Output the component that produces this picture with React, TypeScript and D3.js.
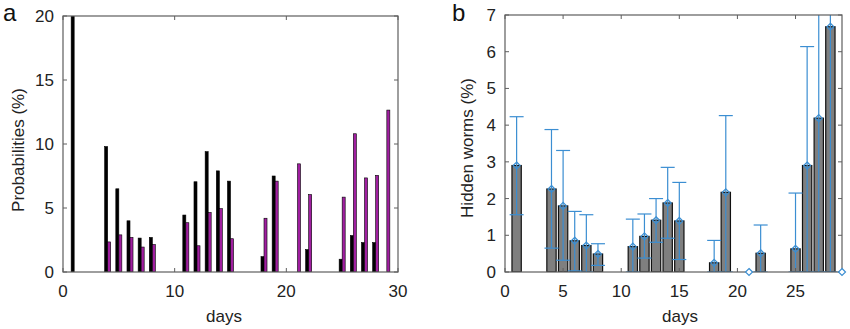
import React from "react";
import * as d3 from "d3";

// Panel a data
const daysA = [1, 4, 5, 6, 7, 8, 11, 12, 13, 14, 15, 18, 19, 21, 22, 25, 26, 27, 28, 29];
const probBlack = [20.5, 9.8, 6.5, 4.0, 2.65, 2.7, 4.45, 7.05, 9.4, 7.9, 7.1, 1.2, 7.5, 0, 1.75, 1.0, 2.85, 2.3, 2.3, 0];
const probPurple = [0, 2.35, 2.9, 2.7, 1.95, 2.15, 3.85, 2.05, 4.65, 4.95, 2.6, 4.2, 7.1, 8.45, 6.05, 5.85, 10.8, 7.35, 7.55, 12.65];
const xTicksA = [0, 10, 20, 30];
const yTicksA = [0, 5, 10, 15, 20];

// Panel b data
const daysB = [1, 4, 5, 6, 7, 8, 11, 12, 13, 14, 15, 18, 19, 21, 22, 25, 26, 27, 28, 29];
const hidden = [2.9, 2.26, 1.8, 0.85, 0.72, 0.49, 0.69, 0.97, 1.41, 1.88, 1.39, 0.25, 2.17, 0, 0.51, 0.63, 2.9, 4.19, 6.68, 0];
const errLower = [1.56, 0.65, 0.32, 0.03, 0, 0.18, 0, 0.38, 0.81, 0.92, 0.34, 0, 0, 0, 0, 0, 0, 0, 0, 0];
const errUpper = [4.23, 3.88, 3.31, 1.65, 1.56, 0.77, 1.44, 1.58, 2.0, 2.85, 2.44, 0.86, 4.26, 0, 1.28, 2.15, 6.14, 8.2, 7.6, 0];
const xTicksB = [0, 5, 10, 15, 20, 25];
const yTicksB = [0, 1, 2, 3, 4, 5, 6, 7];

const FONT = "'Liberation Sans', Arial, Helvetica, sans-serif";
const AXIS = "#5e5e5e";
const PURPLE = "#a01fa0";
const GREY = "#7f7f7f";
const BLUE = "#3b8ed2";

function Frame({ x, y, xTicks, yTicks, tick = 4 }: any) {
  const [x0, x1] = x.range();
  const [y0, y1] = y.range();
  return (
    <g>
      <rect x={x0} y={y1} width={x1 - x0} height={y0 - y1} fill="none" stroke={AXIS} strokeWidth={1.2} />
      {xTicks.map((t: number) => (
        <g key={"xt" + t}>
          <line x1={x(t)} x2={x(t)} y1={y0} y2={y0 - tick} stroke={AXIS} />
          <line x1={x(t)} x2={x(t)} y1={y1} y2={y1 + tick} stroke={AXIS} />
          <text x={x(t)} y={297} textAnchor="middle" fontSize={17} fontFamily={FONT} fill="#222">{t}</text>
        </g>
      ))}
      {yTicks.map((t: number) => (
        <g key={"yt" + t}>
          <line x1={x0} x2={x0 + tick} y1={y(t)} y2={y(t)} stroke={AXIS} />
          <line x1={x1} x2={x1 - tick} y1={y(t)} y2={y(t)} stroke={AXIS} />
          <text x={x0 - 9} y={y(t)} dy="0.35em" textAnchor="end" fontSize={17} fontFamily={FONT} fill="#222">{t}</text>
        </g>
      ))}
    </g>
  );
}

export default function App() {
  const xA = d3.scaleLinear().domain([0, 30]).range([63, 398]);
  const yA = d3.scaleLinear().domain([0, 20]).range([272, 16]);
  const xB = d3.scaleLinear().domain([0, 29]).range([505, 842]);
  const yB = d3.scaleLinear().domain([0, 7]).range([272, 15]);
  const half = 0.27;
  const bw = 0.8;
  const cap = 7;
  const diamond = (cx: number, cy: number, r: number) =>
    `M${cx},${cy - r}L${cx + r},${cy}L${cx},${cy + r}L${cx - r},${cy}Z`;

  return (
    <svg width={850} height={329} style={{ position: "absolute", left: 0, top: 0, background: "#fff" }}>
      <defs>
        <clipPath id="clipA"><rect x={63} y={16} width={335} height={256} /></clipPath>
        <clipPath id="clipB"><rect x={505} y={15} width={337} height={257} /></clipPath>
      </defs>

      {/* Panel a */}
      <g clipPath="url(#clipA)">
        {daysA.map((d, i) => probBlack[i] > 0 ? (
          <rect key={"b" + d} x={xA(d - half)} y={yA(probBlack[i])} width={xA(d) - xA(d - half)}
            height={yA(0) - yA(probBlack[i])} fill="#000" stroke="#000" strokeWidth={0.6} />
        ) : null)}
        {daysA.map((d, i) => probPurple[i] > 0 ? (
          <rect key={"p" + d} x={xA(d)} y={yA(probPurple[i])} width={xA(d + half) - xA(d)}
            height={yA(0) - yA(probPurple[i])} fill={PURPLE} stroke="#000" strokeWidth={0.6} />
        ) : null)}
      </g>
      <Frame x={xA} y={yA} xTicks={xTicksA} yTicks={yTicksA} />
      <text x={3} y={21} fontSize={24} fontFamily={FONT} fill="#111">a</text>
      <text transform="translate(24,150) rotate(-90)" textAnchor="middle" fontSize={17} fontFamily={FONT} fill="#222">Probabilities (%)</text>
      <text x={224} y={322} textAnchor="middle" fontSize={17} fontFamily={FONT} fill="#222">days</text>

      {/* Panel b */}
      <g clipPath="url(#clipB)">
        {daysB.map((d, i) => hidden[i] > 0 ? (
          <rect key={"hb" + d} x={xB(d - bw / 2)} y={yB(hidden[i])} width={xB(d + bw / 2) - xB(d - bw / 2)}
            height={yB(0) - yB(hidden[i])} fill={GREY} stroke="#111" strokeWidth={1.2} />
        ) : null)}
        {daysB.map((d, i) => errUpper[i] > 0 ? (
          <g key={"e" + d} stroke={BLUE} fill="none" strokeWidth={1.2}>
            <line x1={xB(d)} x2={xB(d)} y1={yB(errLower[i])} y2={yB(errUpper[i])} />
            <line x1={xB(d) - cap} x2={xB(d) + cap} y1={yB(errUpper[i])} y2={yB(errUpper[i])} />
            <line x1={xB(d) - cap} x2={xB(d) + cap} y1={yB(errLower[i])} y2={yB(errLower[i])} />
          </g>
        ) : null)}
      </g>
      <Frame x={xB} y={yB} xTicks={xTicksB} yTicks={yTicksB} />
      {daysB.map((d, i) => (
        <path key={"m" + d} d={diamond(xB(d), yB(hidden[i]), 3.5)} stroke={BLUE} strokeWidth={1.2}
          fill={hidden[i] > 0 ? "none" : "#fff"} />
      ))}
      <text x={452} y={21} fontSize={24} fontFamily={FONT} fill="#111">b</text>
      <text transform="translate(473,148) rotate(-90)" textAnchor="middle" fontSize={17} fontFamily={FONT} fill="#222">Hidden worms (%)</text>
      <text x={680} y={322} textAnchor="middle" fontSize={17} fontFamily={FONT} fill="#222">days</text>
    </svg>
  );
}
